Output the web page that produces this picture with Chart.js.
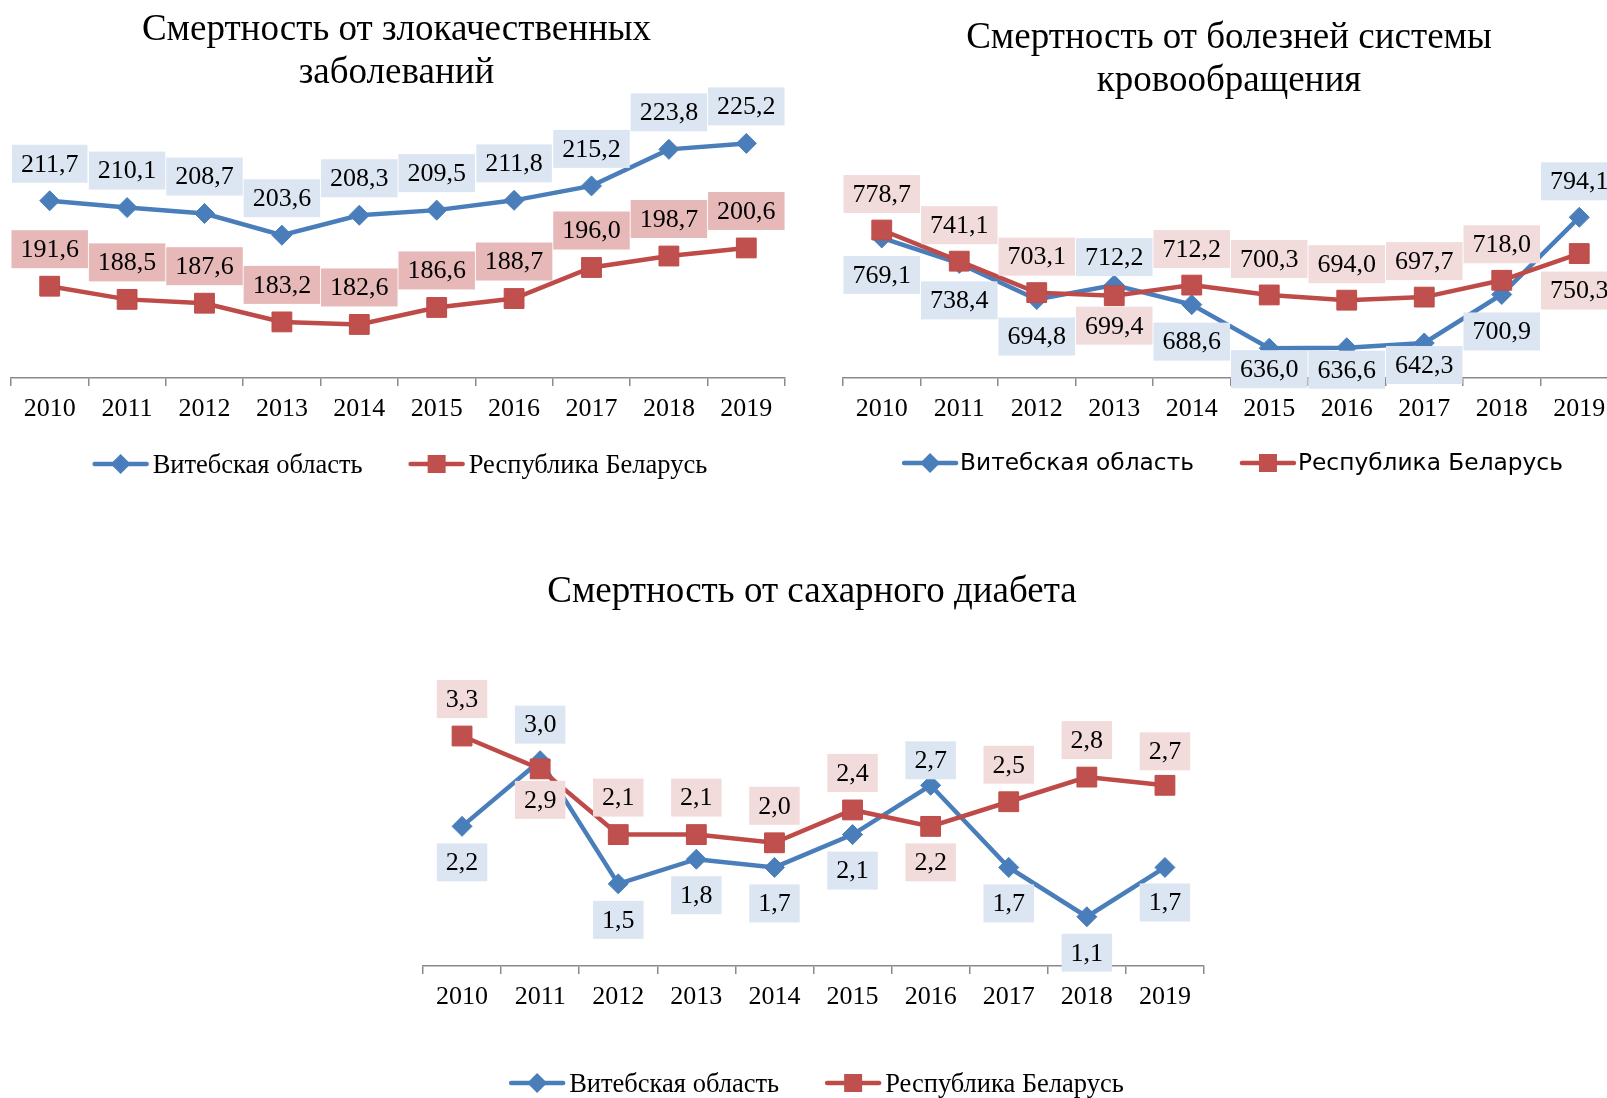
<!DOCTYPE html>
<html lang="ru">
<head>
<meta charset="utf-8">
<title>Смертность в Витебской области и Республике Беларусь</title>
<script src="https://cdn.jsdelivr.net/npm/chart.js@4.4.1/dist/chart.umd.min.js"></script>
<style>
    html, body { margin: 0; padding: 0; background: #fff; overflow: hidden; }
    body { position: relative; width: 1607px; height: 1098px; }
    canvas { position: absolute; }
</style>
</head>
<body>
<canvas id="oncoChart" width="825" height="500" style="left:-20px;top:0"></canvas>
<canvas id="circChart" width="823" height="500" style="left:815px;top:0"></canvas>
<canvas id="diabChart" width="864" height="558" style="left:360px;top:540px"></canvas>
<script>
// --- Data ---
const years = ['2010', '2011', '2012', '2013', '2014', '2015', '2016', '2017', '2018', '2019'];

const oncoVitebsk = [211.7, 210.1, 208.7, 203.6, 208.3, 209.5, 211.8, 215.2, 223.8, 225.2];
const oncoBelarus = [191.6, 188.5, 187.6, 183.2, 182.6, 186.6, 188.7, 196.0, 198.7, 200.6];

const circVitebsk = [769.1, 738.4, 694.8, 712.2, 688.6, 636.0, 636.6, 642.3, 700.9, 794.1];
const circBelarus = [778.7, 741.1, 703.1, 699.4, 712.2, 700.3, 694.0, 697.7, 718.0, 750.3];

const diabVitebsk = [2.2, 3.0, 1.5, 1.8, 1.7, 2.1, 2.7, 1.7, 1.1, 1.7];
const diabBelarus = [3.3, 2.9, 2.1, 2.1, 2.0, 2.4, 2.2, 2.5, 2.8, 2.7];

// where each value box sits relative to its marker (px, negative = above)
const oncoVitebskShift = [-37, -37, -37, -37, -37, -37, -37, -37, -37, -37];
const oncoBelarusShift = [-37, -37, -37, -37, -37, -37, -37, -37, -37, -37];
const circVitebskShift = [37, 37, 37, -28, 37, 21, 22, 22, 37, -36];
const circBelarusShift = [-36, -36, -36, 30, -36, -36, -36, -36, -36, 37];
const diabVitebskShift = [36, -36, 36, 36, 36, 36, -25, 36, 36, 35];
const diabBelarusShift = [-37, 31, -37, -37, -37, -37, 36, -37, -37, -34];

// --- Styles ---
const SERIF = "'Liberation Serif', 'Times New Roman', serif";
const SANS = "'DejaVu Sans', Verdana, sans-serif";
const BLUE = '#4a7ebb';
const RED = '#be4b48';
const RED_MARK = '#c0504d';
const BLUE_BOX = '#dce6f2';
const PINK_BOX = '#f2dcdb';
const ROSE_BOX = '#e6b9b8';
const AXIS = '#8a8a8a';

Chart.defaults.color = '#000';

const fmt = v => v.toFixed(1).replace('.', ',');

// value boxes above/below each point
const boxLabels = {
    id: 'boxLabels',
    afterDatasetsDraw(chart, args, opts) {
        const ctx = chart.ctx;
        ctx.save();
        ctx.font = opts.font;
        ctx.textAlign = 'center';
        ctx.textBaseline = 'middle';
        chart.data.datasets.forEach((ds, i) => {
            chart.getDatasetMeta(i).data.forEach((pt, j) => {
                const text = fmt(ds.data[j]);
                const w = ctx.measureText(text).width + opts.padX * 2;
                const cy = pt.y + ds.labelShift[j];
                ctx.fillStyle = ds.labelFill;
                ctx.fillRect(pt.x - w / 2, cy - opts.height / 2, w, opts.height);
                ctx.fillStyle = '#000';
                ctx.fillText(text, pt.x, cy + 1);
            });
        });
        ctx.restore();
    }
};

// line + marker legend under the axis
function drawMarker(ctx, style, x, y, size) {
    ctx.beginPath();
    if (style === 'rectRot') {
        ctx.moveTo(x, y - size);
        ctx.lineTo(x + size, y);
        ctx.lineTo(x, y + size);
        ctx.lineTo(x - size, y);
        ctx.closePath();
    } else {
        ctx.rect(x - size, y - size, size * 2, size * 2);
    }
    ctx.fill();
}

const lineLegend = {
    id: 'lineLegend',
    afterDraw(chart, args, opts) {
        const {ctx, chartArea} = chart;
        const items = chart.data.datasets;
        ctx.save();
        ctx.font = opts.font;
        ctx.textBaseline = 'middle';
        ctx.textAlign = 'left';
        const widths = items.map(ds => opts.iconWidth + opts.textGap + ctx.measureText(ds.label).width);
        const total = widths.reduce((a, b) => a + b, 0) + opts.itemGap * (items.length - 1);
        let x = (chartArea.left + chartArea.right) / 2 + opts.shiftX - total / 2;
        const y = chartArea.bottom + opts.offsetY;
        items.forEach((ds, i) => {
            ctx.strokeStyle = ds.borderColor;
            ctx.lineWidth = 4.5;
            ctx.lineCap = 'round';
            ctx.beginPath();
            ctx.moveTo(x + 2, y);
            ctx.lineTo(x + opts.iconWidth - 2, y);
            ctx.stroke();
            ctx.fillStyle = ds.pointBackgroundColor;
            drawMarker(ctx, ds.pointStyle, x + opts.iconWidth / 2, y, ds.pointStyle === 'rect' ? 9 : 10);
            ctx.fillStyle = '#000';
            ctx.fillText(ds.label, x + opts.iconWidth + opts.textGap, y + opts.textDy);
            x += widths[i] + opts.itemGap;
        });
        ctx.restore();
    }
};

function series(label, data, line, mark, style, radius, fill, shift, order) {
    return {
        label, data, order,
        borderColor: line,
        borderWidth: 4.5,
        pointStyle: style,
        pointRadius: radius,
        pointBackgroundColor: mark,
        pointBorderColor: line,
        pointBorderWidth: 1,
        tension: 0,
        clip: false,
        labelFill: fill,
        labelShift: shift
    };
}

function lineChart(id, o) {
    return new Chart(document.getElementById(id), {
        type: 'line',
        data: {
            labels: years,
            datasets: [
                series('Витебская область', o.vitebsk, BLUE, BLUE, 'rectRot', 10, BLUE_BOX, o.vitebskShift, 1),
                series('Республика Беларусь', o.belarus, RED, RED_MARK, 'rect', 14, o.redBox, o.belarusShift, 0)
            ]
        },
        options: {
            responsive: false,
            animation: false,
            events: [],
            layout: { padding: o.padding },
            scales: {
                x: {
                    offset: true,
                    grid: { offset: true, drawOnChartArea: false, color: AXIS, lineWidth: 1.5, tickLength: 8 },
                    border: { color: AXIS, width: 1.5 },
                    ticks: { padding: 8, font: { family: SERIF, size: 26 } }
                },
                y: {
                    min: o.yMin,
                    max: o.yMax,
                    ticks: { display: false },
                    grid: { display: false },
                    border: { display: false },
                    afterFit: scale => { scale.width = 3; }
                }
            },
            plugins: {
                legend: { display: false },
                tooltip: { enabled: false },
                title: {
                    display: true,
                    text: o.title,
                    color: '#000',
                    font: { family: SERIF, size: 37, weight: 'normal', lineHeight: o.titleLine },
                    padding: o.titlePadding
                },
                boxLabels: { font: '26px ' + SERIF, padX: 9, height: 38 },
                lineLegend: Object.assign({ iconWidth: 56, textGap: 4, itemGap: 46, shiftX: 2, textDy: 2 }, o.legend)
            }
        },
        plugins: [boxLabels, lineLegend]
    });
}

// 1. Malignant neoplasms
lineChart('oncoChart', {
    title: ['Смертность от злокачественных', 'заболеваний'],
    titleLine: '43px',
    titlePadding: { top: 9, bottom: 28 },
    padding: { left: 28, right: 20, top: 0, bottom: 66.8 },
    yMin: 170, yMax: 230,
    vitebsk: oncoVitebsk, belarus: oncoBelarus,
    vitebskShift: oncoVitebskShift, belarusShift: oncoBelarusShift,
    redBox: ROSE_BOX,
    legend: { font: '26.5px ' + SERIF, offsetY: 86 }
});

// 2. Circulatory diseases
lineChart('circChart', {
    title: ['Смертность от болезней системы', 'кровообращения'],
    titleLine: '43px',
    titlePadding: { top: 16.4, bottom: 110 },
    padding: { left: 25, right: 20, top: 0, bottom: 66.8 },
    yMin: 600, yMax: 800,
    vitebsk: circVitebsk, belarus: circBelarus,
    vitebskShift: circVitebskShift, belarusShift: circBelarusShift,
    redBox: PINK_BOX,
    legend: { font: '23.3px ' + SANS, offsetY: 85, textGap: 2, textDy: 1 }
});

// 3. Diabetes
lineChart('diabChart', {
    title: 'Смертность от сахарного диабета',
    titleLine: 1.2,
    titlePadding: { top: 29.8, bottom: 105.4 },
    padding: { left: 60, right: 20, top: 0, bottom: 76.8 },
    yMin: 0.5, yMax: 3.5,
    vitebsk: diabVitebsk, belarus: diabBelarus,
    vitebskShift: diabVitebskShift, belarusShift: diabBelarusShift,
    redBox: PINK_BOX,
    legend: { font: '26.5px ' + SERIF, offsetY: 117, shiftX: 3 }
});
</script>
</body>
</html>
